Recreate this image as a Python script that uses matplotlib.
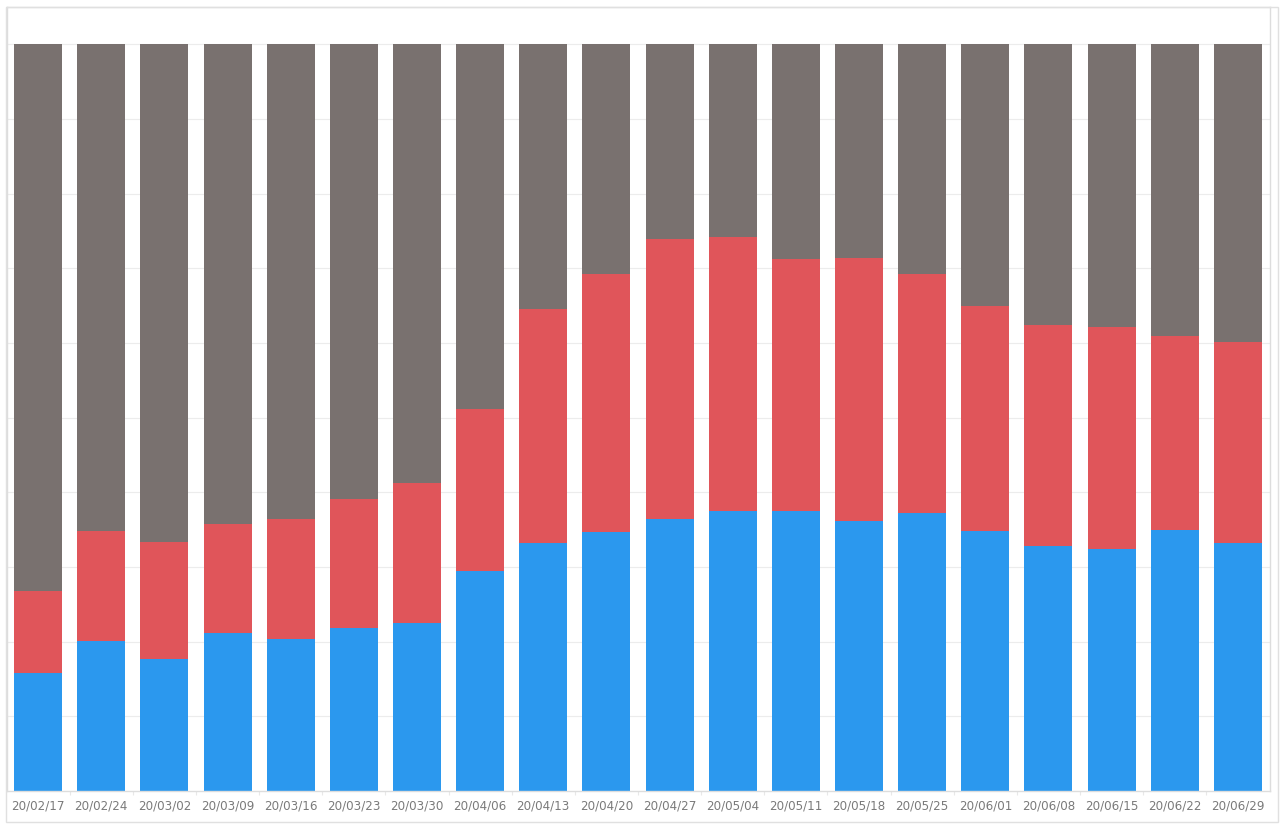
import matplotlib.pyplot as plt
import numpy as np
from matplotlib.patches import Rectangle

# Weekly shares (percent), bottom to top
weeks = ['20/02/17', '20/02/24', '20/03/02', '20/03/09', '20/03/16',
         '20/03/23', '20/03/30', '20/04/06', '20/04/13', '20/04/20',
         '20/04/27', '20/05/04', '20/05/11', '20/05/18', '20/05/25',
         '20/06/01', '20/06/08', '20/06/15', '20/06/22', '20/06/29']
blue_share = [15.8, 20.1, 17.7, 21.2, 20.3, 21.8, 22.5, 29.5, 33.2, 34.7,
              36.4, 37.5, 37.5, 36.1, 37.2, 34.8, 32.8, 32.4, 34.9, 33.2]
red_share = [11.0, 14.7, 15.6, 14.5, 16.1, 17.3, 18.7, 21.6, 31.3, 34.5,
             37.5, 36.7, 33.7, 35.3, 32.0, 30.1, 29.6, 29.7, 26.1, 27.0]
gray_share = [73.2, 65.2, 66.7, 64.3, 63.6, 60.9, 58.8, 48.9, 35.5, 30.8,
              26.1, 25.8, 28.8, 28.6, 30.8, 35.1, 37.6, 37.9, 39.0, 39.8]

blue = np.array(blue_share) / 100
red = np.array(red_share) / 100
gray = np.array(gray_share) / 100

fig = plt.figure(figsize=(12.8, 8.26), dpi=100)
ax = fig.add_axes([6.5 / 1280, 35 / 826, 1263 / 1280, 784 / 826])

x = np.arange(len(weeks))
w = 0.76
ax.bar(x, blue, width=w, color='#2b98ee', linewidth=0, zorder=2)
ax.bar(x, red, width=w, bottom=blue, color='#e0555a', linewidth=0, zorder=2)
ax.bar(x, gray, width=w, bottom=blue + red, color='#79716f', linewidth=0, zorder=2)

ax.set_xlim(-0.5, len(weeks) - 0.5)
ax.set_ylim(0, 1.05)

# faint horizontal grid
ax.set_yticks(np.arange(0.1, 1.01, 0.1))
ax.yaxis.grid(True, color='#ececec', linewidth=0.8, zorder=0)
ax.tick_params(axis='y', length=0, labelleft=False)

ax.set_xticks(x)
ax.set_xticklabels(weeks, fontsize=8.6, color='#7a7a7a')
ax.tick_params(axis='x', length=0, pad=6)
ax.set_xticks(x[:-1] + 0.5, minor=True)
ax.tick_params(axis='x', which='minor', length=3, color='#e8e8e8', width=0.8)

for s in ax.spines.values():
    s.set_color('#dddddd')
    s.set_linewidth(1)

# outer frame around the whole chart
fig.patches.append(Rectangle((6 / 1280, 4.5 / 826), 1271.5 / 1280, 814.5 / 826,
                             transform=fig.transFigure, fill=False,
                             edgecolor='#e0e0e0', linewidth=1))

fig.savefig('out.png', dpi=100)
